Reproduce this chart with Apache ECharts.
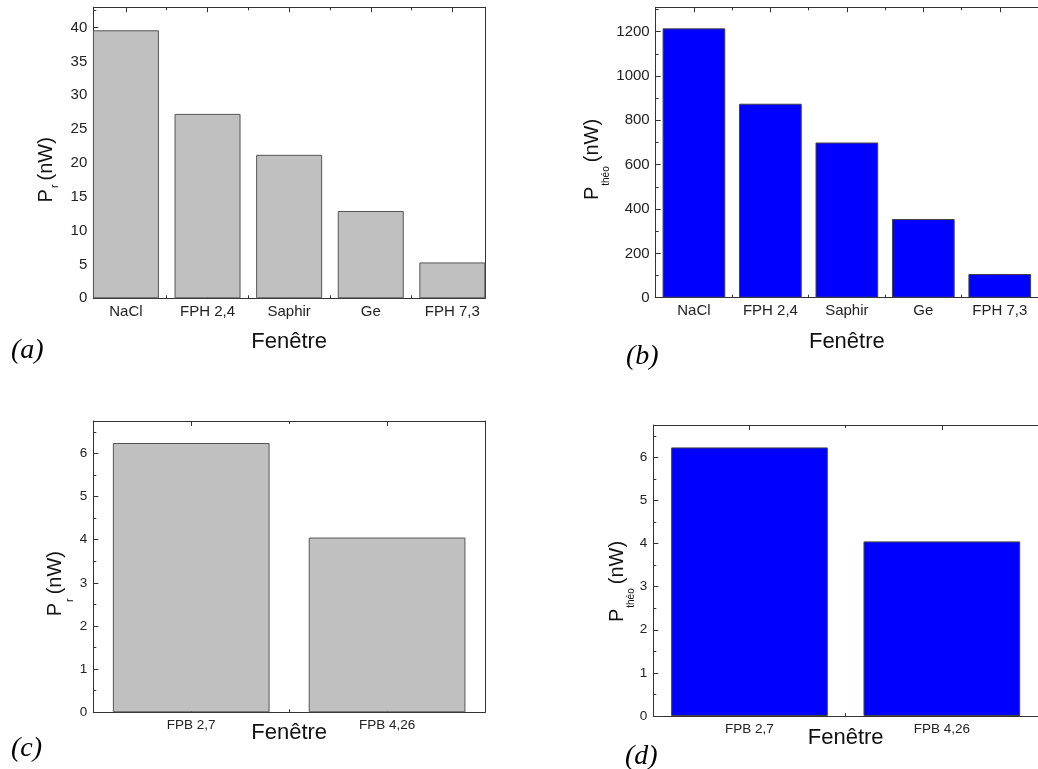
<!DOCTYPE html>
<html>
<head>
<meta charset="utf-8">
<script src="https://cdn.jsdelivr.net/npm/echarts@6/dist/echarts.min.js"></script>
<style>
  html, body { margin: 0; padding: 0; background: #fff; }
  #chart { width: 1038px; height: 769px; }
</style>
</head>
<body>
<div id="chart"></div>
<script>
// ---- data ----
const catsTop = ['NaCl', 'FPH 2,4', 'Saphir', 'Ge', 'FPH 7,3'];
const valsA = [39.6, 27.25, 21.2, 12.9, 5.3];      // P_r (nW)
const valsB = [1215, 875, 700, 355, 107];          // P_théo (nW)
const catsBottom = ['FPB 2,7', 'FPB 4,26'];
const valsC = [6.24, 4.05];                        // P_r (nW)
const valsD = [6.23, 4.05];                        // P_théo (nW)
const yTicksA = [0, 5, 10, 15, 20, 25, 30, 35, 40];
const yMinorA = [2.5, 7.5, 12.5, 17.5, 22.5, 27.5, 32.5, 37.5, 42.5];
const yTicksB = [0, 200, 400, 600, 800, 1000, 1200];
const yMinorB = [100, 300, 500, 700, 900, 1100, 1300];
const yTicksCD = [0, 1, 2, 3, 4, 5, 6];
const yMinorCD = [0.5, 1.5, 2.5, 3.5, 4.5, 5.5, 6.5];

const SANS = 'Liberation Sans, Arial, sans-serif';
const SERIF = 'Liberation Serif, Times New Roman, serif';
const AXIS_COLOR = '#333';
const TEXT_COLOR = '#222';

const option = {
  animation: false,
  backgroundColor: '#fff',
  grid: [], xAxis: [], yAxis: [], series: [], graphic: []
};

function addPanel(p) {
  const g = option.grid.length;
  option.grid.push(Object.assign({ show: false, containLabel: false }, p.grid));
  const centers = p.cats.map((c, i) => i);
  const mids = p.cats.slice(1).map((c, i) => i + 0.5);
  const line = { color: AXIS_COLOR, width: 1 };
  const xBase = { gridIndex: g, type: 'value', min: p.xMin, max: p.xMax, splitLine: { show: false } };
  const xi = option.xAxis.length;
  option.xAxis.push(Object.assign({}, xBase, {
    position: 'bottom',
    axisLine: { show: true, onZero: false, lineStyle: line },
    axisTick: { show: true, inside: true, length: 5, customValues: centers, lineStyle: line },
    axisLabel: { show: true, customValues: centers, formatter: v => p.cats[Math.round(v)],
                 margin: p.xLabelMargin, fontSize: p.xLabelSize, color: TEXT_COLOR, fontFamily: SANS },
    name: 'Fenêtre', nameLocation: 'middle', nameGap: p.xNameGap, nameMoveOverlap: false,
    nameTextStyle: { fontSize: 22, color: '#111', fontFamily: SANS }
  }));
  option.xAxis.push(Object.assign({}, xBase, {
    position: 'bottom',
    axisLine: { show: false, onZero: false },
    axisTick: { show: true, inside: true, length: 3, customValues: mids, lineStyle: line },
    axisLabel: { show: false }
  }));
  option.xAxis.push(Object.assign({}, xBase, {
    position: 'top',
    axisLine: { show: true, onZero: false, lineStyle: line },
    axisTick: { show: true, inside: true, length: 5, customValues: centers, lineStyle: line },
    axisLabel: { show: false }
  }));
  option.xAxis.push(Object.assign({}, xBase, {
    position: 'top',
    axisLine: { show: false, onZero: false },
    axisTick: { show: true, inside: true, length: 3, customValues: mids, lineStyle: line },
    axisLabel: { show: false }
  }));

  const yBase = { gridIndex: g, type: 'value', min: 0, max: p.yMax, splitLine: { show: false } };
  const yi = option.yAxis.length;
  option.yAxis.push(Object.assign({}, yBase, {
    position: 'left',
    axisLine: { show: true, onZero: false, lineStyle: line },
    axisTick: { show: true, inside: true, length: 5, customValues: p.yTicks, lineStyle: line },
    axisLabel: { show: true, customValues: p.yTicks, margin: 6, fontSize: p.yLabelSize,
                 formatter: v => String(v), color: TEXT_COLOR, fontFamily: SANS },
    name: '{m|P}{s|' + p.sub + '}{m|(nW)}',
    nameLocation: 'middle', nameRotate: 90, nameGap: p.yNameGap, nameMoveOverlap: false,
    nameTextStyle: {
      color: '#111', fontFamily: SANS, padding: [0, p.yNameShift * 2, 0, 0],
      rich: {
        m: { fontSize: 20, lineHeight: 24, verticalAlign: 'top', fontFamily: SANS, color: '#111' },
        s: { fontSize: p.subSize, lineHeight: 14, verticalAlign: 'top', padding: [p.subPad, 4, 0, 1],
             fontFamily: SANS, color: '#111' }
      }
    }
  }));
  option.yAxis.push(Object.assign({}, yBase, {
    position: 'left',
    axisLine: { show: false, onZero: false },
    axisTick: { show: true, inside: true, length: 3, customValues: p.yMinor, lineStyle: line },
    axisLabel: { show: false }
  }));
  option.yAxis.push(Object.assign({}, yBase, {
    position: 'right',
    axisLine: { show: true, onZero: false, lineStyle: line },
    axisTick: { show: false },
    axisLabel: { show: false }
  }));

  option.series.push({
    type: 'bar',
    xAxisIndex: xi, yAxisIndex: yi,
    barWidth: p.barWidth,
    data: p.vals.map((v, i) => [i, v]),
    itemStyle: { color: p.color, borderColor: p.border, borderWidth: 1 }
  });

  option.graphic.push({
    type: 'text', left: p.tag.x, top: p.tag.y,
    style: { text: p.tag.text, font: 'italic 28px ' + SERIF, fill: '#000' }
  });
}

addPanel({
  grid: { left: 93.3, top: 7.3, width: 391.7, height: 291 },
  cats: catsTop, vals: valsA, xMin: -0.4, xMax: 4.4, yMax: 43,
  yTicks: yTicksA, yMinor: yMinorA, barWidth: 66,
  color: '#c0c0c0', border: '#555',
  xLabelSize: 15, yLabelSize: 15, xLabelMargin: 6, xNameGap: 33,
  sub: 'r', subSize: 11, subPad: 13, yNameGap: 33, yNameShift: 17,
  tag: { text: '(a)', x: 11, y: 337 }
});
addPanel({
  grid: { left: 655.7, top: 7.3, width: 391.5, height: 290.4 },
  cats: catsTop, vals: valsB, xMin: -0.5, xMax: 4.5, yMax: 1310,
  yTicks: yTicksB, yMinor: yMinorB, barWidth: 62.7,
  color: '#0000ff', border: '#444',
  xLabelSize: 15, yLabelSize: 15, xLabelMargin: 6, xNameGap: 33,
  sub: 'théo', subSize: 10, subPad: 19, yNameGap: 49, yNameShift: 7,
  tag: { text: '(b)', x: 626, y: 343 }
});
addPanel({
  grid: { left: 93.3, top: 421, width: 391.7, height: 291.3 },
  cats: catsBottom, vals: valsC, xMin: -0.5, xMax: 1.5, yMax: 6.75,
  yTicks: yTicksCD, yMinor: yMinorCD, barWidth: 156.7,
  color: '#c0c0c0', border: '#555',
  xLabelSize: 13.5, yLabelSize: 13.5, xLabelMargin: 6, xNameGap: 10,
  sub: 'r', subSize: 11, subPad: 19, yNameGap: 24, yNameShift: 17,
  tag: { text: '(c)', x: 11, y: 735 }
});
addPanel({
  grid: { left: 653.3, top: 425, width: 391.4, height: 291 },
  cats: catsBottom, vals: valsD, xMin: -0.5, xMax: 1.5, yMax: 6.75,
  yTicks: yTicksCD, yMinor: yMinorCD, barWidth: 156.7,
  color: '#0000ff', border: '#444',
  xLabelSize: 13.5, yLabelSize: 13.5, xLabelMargin: 6, xNameGap: 11,
  sub: 'théo', subSize: 10, subPad: 19, yNameGap: 22, yNameShift: 11,
  tag: { text: '(d)', x: 625, y: 743 }
});

const chart = echarts.init(document.getElementById('chart'), null, { renderer: 'canvas' });
chart.setOption(option);
</script>
</body>
</html>
